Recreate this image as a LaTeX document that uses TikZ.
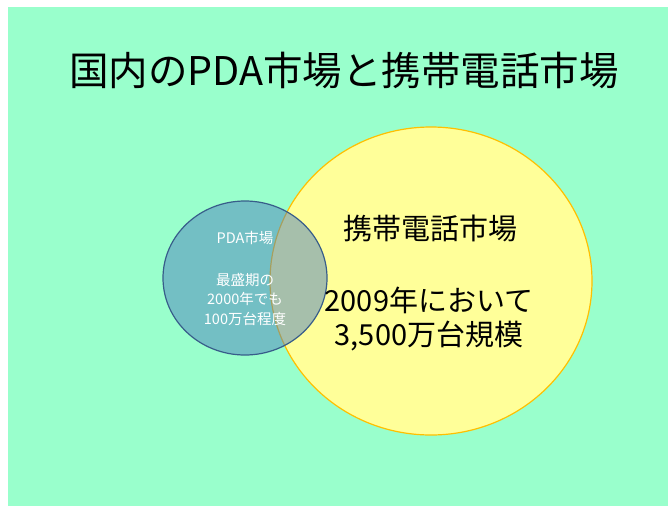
\documentclass[tikz,border=0pt]{standalone}
\usepackage{fontspec}
\setmainfont{Noto Sans CJK JP}
\usetikzlibrary{shapes.geometric}
\definecolor{bggreen}{HTML}{99FFCC}
\definecolor{cellfill}{HTML}{FFFF99}
\definecolor{celledge}{HTML}{FFC000}
\definecolor{pdafill}{HTML}{4F81BD}
\definecolor{pdaedge}{HTML}{385D8A}
\tikzset{
  market/.style={ellipse, inner sep=0pt, line width=1.2pt},
  bigtext/.style={align=center, font=\fontsize{29}{34}\selectfont, text=black},
  smalltext/.style={align=center, font=\fontsize{14.5}{19.5}\selectfont, text=white}
}
\begin{document}
\begin{tikzpicture}[x=1pt,y=-1pt]
\useasboundingbox (0,0) rectangle (668,506);
\fill[bggreen] (8,7) rectangle (668,506);
\node[font=\fontsize{39.5}{46}\selectfont] (title) at (344,70) {国内のPDA市場と携帯電話市場};
\node[market, draw=celledge, fill=cellfill, minimum width=322, minimum height=308] (cell) at (431,281) {};
\node[market, draw=pdaedge, fill=pdafill, fill opacity=0.5, draw opacity=1, minimum width=164, minimum height=154] (pda) at (245,278) {};
\node[bigtext] (celltitle) at (430,228) {携帯電話市場};
\node[bigtext] (cellbody) at (429,319) {2009年において\\3,500万台規模};
\node[smalltext] (pdatitle) at (245,238) {PDA市場};
\node[smalltext] (pdabody) at (245,299) {最盛期の\\2000年でも\\100万台程度};
\end{tikzpicture}
\end{document}
